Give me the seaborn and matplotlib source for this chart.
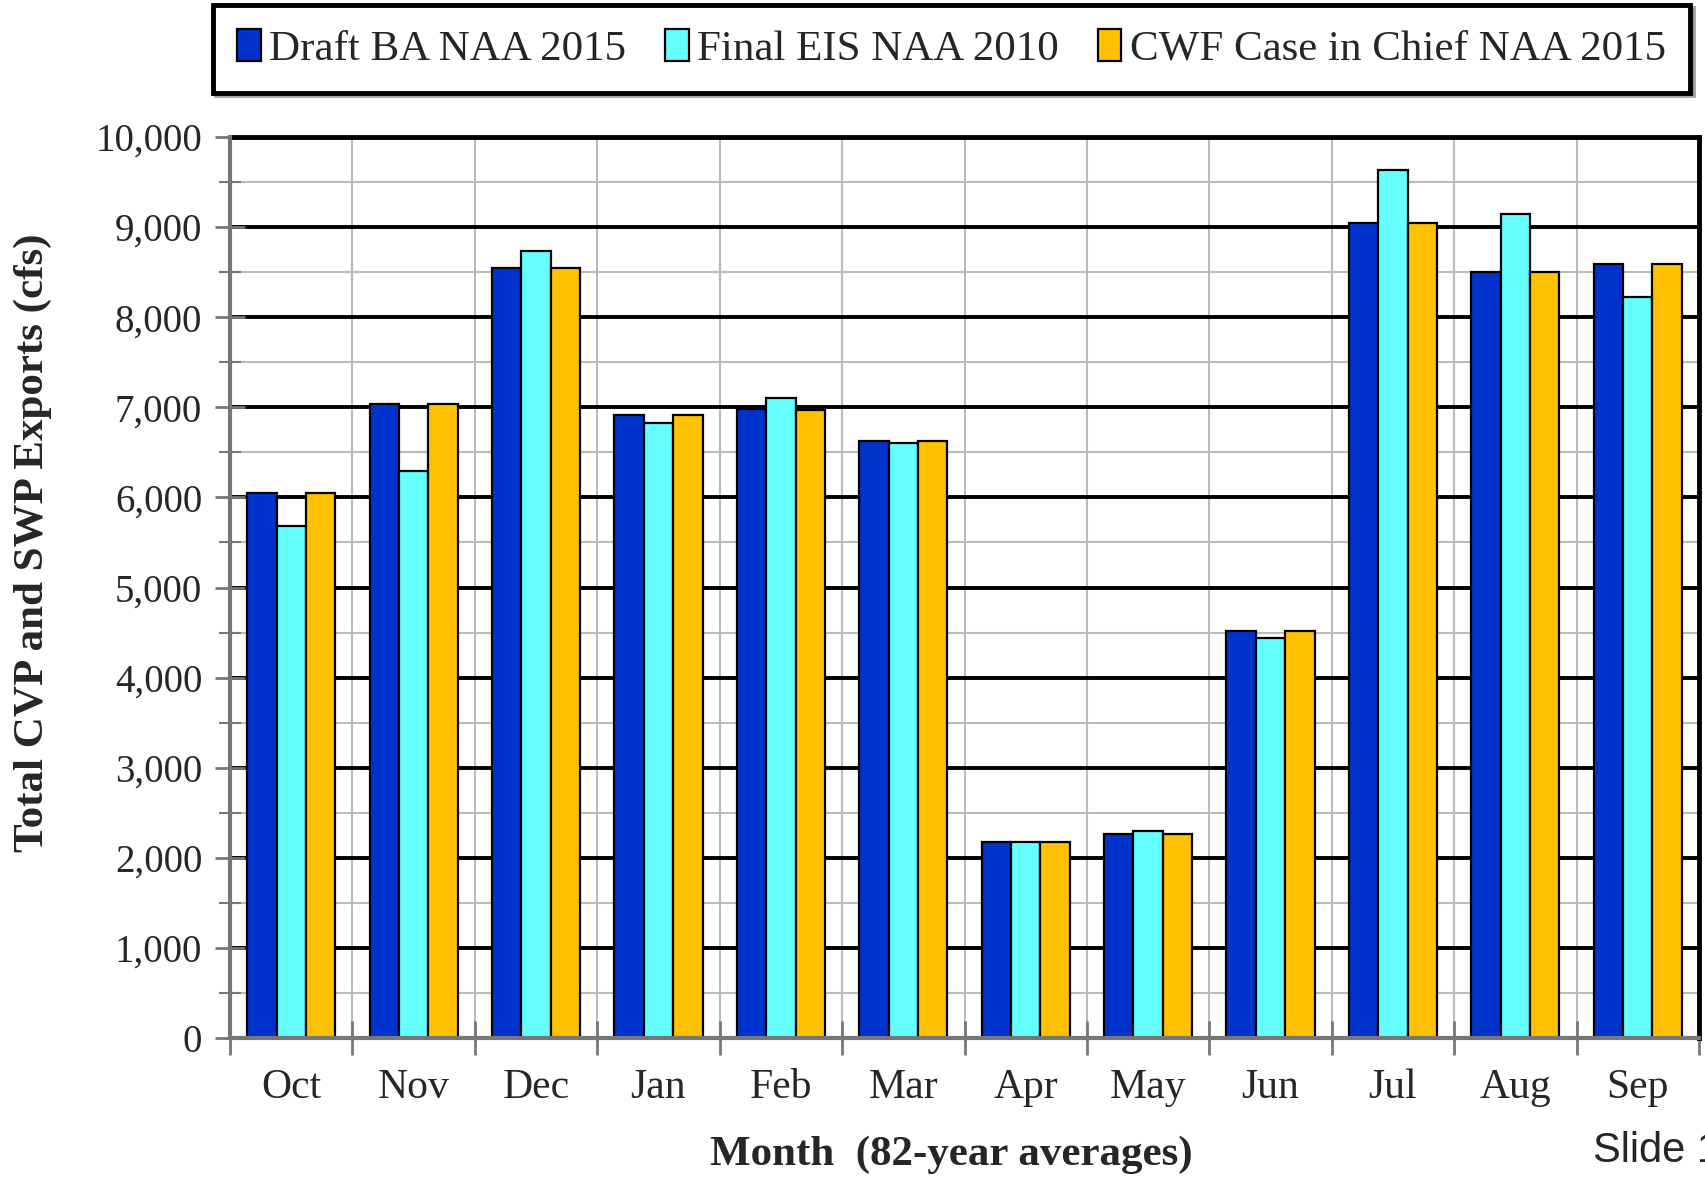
import numpy as np
import pandas as pd
import matplotlib
matplotlib.use("Agg")
import matplotlib.pyplot as plt
import seaborn as sns
from matplotlib.ticker import MultipleLocator, FuncFormatter, FixedLocator

months = ["Oct", "Nov", "Dec", "Jan", "Feb", "Mar", "Apr", "May", "Jun", "Jul", "Aug", "Sep"]
series_names = ["Draft BA NAA 2015", "Final EIS NAA 2010", "CWF Case in Chief NAA 2015"]
draft_ba = [6050, 7040, 8550, 6920, 6980, 6630, 2170, 2260, 4520, 9050, 8500, 8590]
final_eis = [5680, 6290, 8740, 6830, 7100, 6600, 2180, 2300, 4440, 9630, 9150, 8220]
cwf_cic = [6050, 7040, 8550, 6920, 6970, 6630, 2180, 2260, 4520, 9050, 8500, 8590]
colors = ["#0033CC", "#66FFFF", "#FFC000"]

df = pd.DataFrame({
    "Month": months * 3,
    "Series": [series_names[0]] * 12 + [series_names[1]] * 12 + [series_names[2]] * 12,
    "Value": draft_ba + final_eis + cwf_cic,
})

sns.set_style("white")
plt.rcParams["font.family"] = ["Liberation Serif", "DejaVu Serif"]

fig = plt.figure(figsize=(17.05, 11.8), dpi=100)
ax = fig.add_axes([230 / 1705, 1 - 1038 / 1180, 1469 / 1705, 901 / 1180])

sns.barplot(data=df, x="Month", y="Value", hue="Series", order=months,
            hue_order=series_names, palette=colors, width=0.72,
            edgecolor="black", linewidth=1.6, saturation=1, ax=ax, legend=True, zorder=3)

ax.set_xlim(-0.5, len(months) - 0.5)
ax.set_ylim(0, 10000)

# y axis
ax.yaxis.set_major_locator(MultipleLocator(1000))
ax.yaxis.set_minor_locator(MultipleLocator(500))
ax.yaxis.set_major_formatter(FuncFormatter(lambda v, p: f"{int(v):,}"))
ax.grid(False)
ax.grid(which="major", axis="y", color="black", linewidth=2.8, zorder=1)
ax.grid(which="minor", axis="y", color="#BBBBBB", linewidth=1.5, zorder=1)

# x axis: boundaries as major ticks, labels as minor ticks
bounds = [i - 0.5 for i in range(len(months) + 1)]
ax.xaxis.set_major_locator(FixedLocator(bounds))
ax.xaxis.set_major_formatter(FuncFormatter(lambda v, p: ""))
ax.set_xticks(range(len(months)), minor=True)
ax.set_xticklabels(months, minor=True)
ax.grid(which="major", axis="x", color="#BBBBBB", linewidth=1.5, zorder=1)

ax.tick_params(axis="y", which="major", direction="inout", length=22, width=2, color="#777777",
               labelsize=28, pad=9, left=True)
ax.tick_params(axis="y", which="minor", direction="inout", length=16, width=1.5, color="#777777", left=True)
ax.tick_params(axis="x", which="major", direction="inout", length=24, width=2, color="#777777", bottom=True)
ax.tick_params(axis="x", which="minor", length=0, labelsize=30, pad=22)

for s in ["left", "bottom"]:
    ax.spines[s].set_color("#777777")
    ax.spines[s].set_linewidth(3)
for s in ["top", "right"]:
    ax.spines[s].set_color("black")
    ax.spines[s].set_linewidth(3.5)
ax.spines["left"].set_zorder(4)
ax.spines["bottom"].set_zorder(4)

ax.set_ylabel("Total CVP and SWP Exports (cfs)", fontsize=31, fontweight="bold", va="center")
ax.yaxis.set_label_coords(-0.134, 0.55)
ax.set_xlabel("Month  (82-year averages)", fontsize=31, fontweight="bold", va="center")
ax.xaxis.set_label_coords(0.491, -0.13)

# legend
handles, labels = ax.get_legend_handles_labels()
ax.get_legend().remove()
leg = fig.legend(handles, labels, ncol=3, loc="center",
                 bbox_to_anchor=((212 + 1479 / 2) / 1705, 1 - 49 / 1180),
                 fontsize=31, frameon=True, fancybox=False, shadow=True,
                 handlelength=0.55, handleheight=0.75, handletextpad=0.2, columnspacing=0.9,
                 borderpad=0.55, borderaxespad=0)
leg.get_frame().set_edgecolor("black")
leg.get_frame().set_linewidth(3.5)

fig.text(1593 / 1705, 1 - 1151 / 1180, "Slide 1", fontsize=30, family="Liberation Sans",
         ha="left", va="center")

fig.savefig("out.png", dpi=100)
